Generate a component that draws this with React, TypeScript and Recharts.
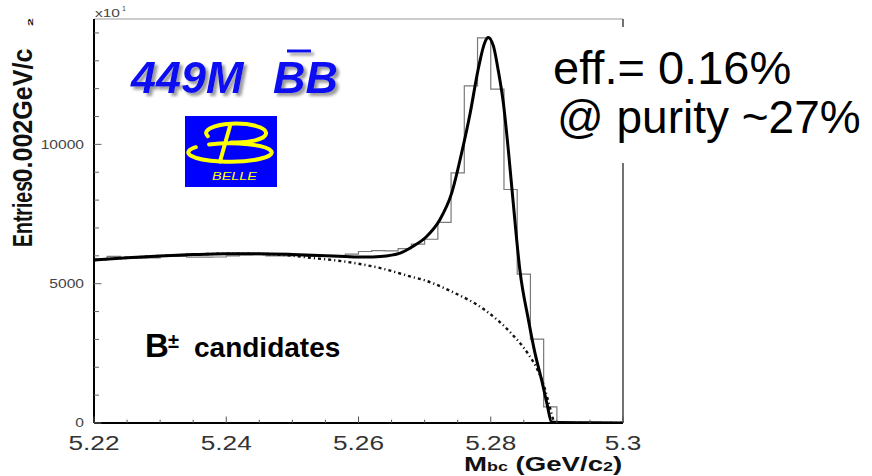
import React from 'react';
import { LineChart, Line, XAxis, YAxis, ReferenceLine } from 'recharts';

const FONT = '"Liberation Sans", Arial, Helvetica, sans-serif';

// Mbc histogram: lower bin edges (GeV/c^2), last entry closes the final bin
const binEdges = [
  5.220, 5.222, 5.224, 5.226, 5.228, 5.230, 5.232, 5.234, 5.236, 5.238,
  5.240, 5.242, 5.244, 5.246, 5.248, 5.250, 5.252, 5.254, 5.256, 5.258,
  5.260, 5.262, 5.264, 5.266, 5.268, 5.270, 5.272, 5.274, 5.276, 5.278,
  5.280, 5.282, 5.284, 5.286, 5.288, 5.290, 5.292, 5.294, 5.296, 5.298,
  5.300,
];
// entries per 0.002 GeV/c^2 bin (x10^1)
const binCounts = [
  5880, 5980, 5920, 5915, 5925, 5975, 5980, 5955, 5950, 5958,
  6000, 6035, 6040, 6000, 5998, 6005, 5975, 5980, 5970, 6060,
  6155, 6190, 6180, 6255, 6420, 6595, 7200, 8980, 12100, 13820,
  11980, 8380, 5340, 3010, 580, 0, 0, 0, 0, 0,
  0,
];

// total fit (signal + background)
const fitMass = [
  5.220, 5.225, 5.230, 5.235, 5.240, 5.245, 5.250, 5.255, 5.258, 5.261,
  5.2633, 5.2663, 5.2682, 5.2703, 5.2723, 5.2741, 5.2756, 5.2769, 5.2781, 5.2791,
  5.2796, 5.2804, 5.2811, 5.2819, 5.2827, 5.2834, 5.2844, 5.2857, 5.2867, 5.2877,
  5.2885, 5.2892, 5.2900, 5.2950, 5.3000,
];
const fitValue = [
  5850, 5930, 5995, 6045, 6075, 6075, 6050, 6005, 5975, 5955,
  5976, 6098, 6336, 6696, 7297, 8258, 9698, 11138, 12697, 13658,
  13840, 13536, 12697, 11498, 9698, 7898, 5497, 3697, 2498, 1537,
  698, 36, 20, 10, 0,
];

// ARGUS-like continuum background component
const bkgMass = [
  5.220, 5.230, 5.240, 5.245, 5.2481, 5.2532, 5.2582, 5.2633, 5.2683, 5.2698,
  5.2741, 5.2791, 5.2831, 5.2856, 5.2871, 5.2881, 5.2889, 5.2895, 5.2898, 5.3000,
];
const bkgValue = [
  5850, 5995, 6075, 6070, 6040, 5920, 5785, 5560, 5230, 5137,
  4716, 4057, 3218, 2498, 1897, 1296, 600, 100, 0, 0,
];

const xTicks = [
  5.22, 5.225, 5.23, 5.235, 5.24, 5.245, 5.25, 5.255, 5.26,
  5.265, 5.27, 5.275, 5.28, 5.285, 5.29, 5.295, 5.3,
];
const xLabelValues = [5.22, 5.24, 5.26, 5.28, 5.3];
const xLabels = ['5.22', '5.24', '5.26', '5.28', '5.3'];

const yTicks = [
  0, 1000, 2000, 3000, 4000, 5000, 6000, 7000, 8000, 9000,
  10000, 11000, 12000, 13000, 14000,
];
const yLabelValues = [0, 5000, 10000];
const yLabels = ['0', '5000', '10000'];

const histData = binEdges.map((m, i) => ({ m, v: binCounts[i] }));
const fitData = fitMass.map((m, i) => ({ m, v: fitValue[i] }));
const bkgData = bkgMass.map((m, i) => ({ m, v: bkgValue[i] }));

const findIndex = (list: number[], value: number) =>
  list.findIndex((v) => Math.abs(v - value) < 1e-9);

const XTick = (props: any) => {
  const { x, y, payload } = props;
  const idx = findIndex(xLabelValues, payload.value);
  const major = idx >= 0;
  return (
    <g>
      <line x1={x} x2={x} y1={y} y2={y - (major ? 6.5 : 3.3)} stroke="#555" strokeWidth={1} />
      {major && (
        <g transform={`translate(${x},${y + 26.6}) scale(1.31,1)`}>
          <text x={0} y={0} textAnchor="middle" fontSize={20} fill="#333" fontFamily={FONT}>
            {xLabels[idx]}
          </text>
        </g>
      )}
    </g>
  );
};

const YTick = (props: any) => {
  const { x, y, payload } = props;
  const idx = findIndex(yLabelValues, payload.value);
  const major = idx >= 0;
  return (
    <g>
      <line x1={x} x2={x + (major ? 7.5 : 5)} y1={y} y2={y} stroke="#666" strokeWidth={1} />
      {major && (
        <g transform={`translate(${x - 10},${y + 4.3}) scale(1.3,1)`}>
          <text x={0} y={0} textAnchor="end" fontSize={12} fill="#444" fontFamily={FONT}>
            {yLabels[idx]}
          </text>
        </g>
      )}
    </g>
  );
};

const BelleLogo = () => (
  <g>
    <rect x={185} y={116} width={92} height={71} fill="#0000ff" />
    <g fill="none" stroke="#ffff00" strokeWidth={4} strokeLinecap="round">
      <path d="M 207.8 136.2 A 30 9.5 0 1 1 230.8 142.4" />
      <path d="M 230 126 L 220 161.5" />
      <path d="M 195.8 147.2 A 41.7 9.2 0 1 0 209.1 144.5" />
    </g>
    <text
      x={212}
      y={180}
      fontSize={11}
      fontStyle="italic"
      fill="#ffff00"
      fontFamily={FONT}
      textLength={45}
      lengthAdjust="spacingAndGlyphs"
    >
      BELLE
    </text>
  </g>
);

const Annotations = () => (
  <svg
    width={872}
    height={476}
    style={{ position: 'absolute', left: 0, top: 0, pointerEvents: 'none' }}
  >
    <defs>
      <filter id="softShadow" x="-10%" y="-20%" width="130%" height="160%">
        <feDropShadow dx="3" dy="3" stdDeviation="1.8" floodColor="#777" floodOpacity="0.75" />
      </filter>
    </defs>

    {/* axis multiplier */}
    <text x={95} y={17.3} fontSize={10} fill="#444" fontFamily={FONT} textLength={25} lengthAdjust="spacingAndGlyphs">
      x10
    </text>
    <text x={122} y={10.5} fontSize={7} fill="#444" fontFamily={FONT}>
      1
    </text>

    {/* y axis title */}
    <g transform="translate(32.3,247) rotate(-90) scale(1,1.16)">
      <text x={0} y={0} fontSize={24} fontWeight="bold" fill="#111" fontFamily={FONT} textLength={66} lengthAdjust="spacingAndGlyphs">
        Entries
      </text>
    </g>
    <g transform="translate(32.3,182.5) rotate(-90) scale(1,1.16)">
      <text x={0} y={0} fontSize={24} fontWeight="bold" fill="#111" fontFamily={FONT} textLength={134} lengthAdjust="spacingAndGlyphs">
        0.002GeV/c
      </text>
    </g>
    <g transform="translate(33.3,26) rotate(-90)">
      <text x={0} y={0} fontSize={8} fontWeight="bold" fill="#111" fontFamily={FONT} textLength={7.7} lengthAdjust="spacingAndGlyphs">
        2
      </text>
    </g>

    {/* x axis title */}
    <g transform="translate(464,471) scale(1.38,1)">
      <text x={0} y={0} fontSize={20} fontWeight="bold" fill="#111" fontFamily={FONT}>
        <tspan>M</tspan>
        <tspan fontSize={13}>bc</tspan>
        <tspan> (GeV/c</tspan>
        <tspan fontSize={13}>2</tspan>
        <tspan>)</tspan>
      </text>
    </g>

    {/* sample size */}
    <g filter="url(#softShadow)" fill="#0a0af2" fontFamily={FONT} fontWeight="bold" fontStyle="italic">
      <text x={131} y={93} fontSize={45}>
        449M
      </text>
      <text x={273} y={93} fontSize={45}>
        BB
      </text>
      <line x1={287} x2={311} y1={51} y2={51} stroke="#0a0af2" strokeWidth={3} />
    </g>

    <BelleLogo />

    {/* efficiency box */}
    <rect x={548} y={27} width={324} height={136} fill="#ffffff" />
    <text x={553} y={84} fontSize={47} fill="#000" fontFamily={FONT}>
      eff.= 0.16%
    </text>
    <text x={557} y={133} fontSize={46} fill="#000" fontFamily={FONT}>
      @ purity ~27%
    </text>

    {/* sample label */}
    <text x={145} y={357} fontSize={33} fontWeight="bold" fill="#000" fontFamily={FONT}>
      B
    </text>
    <text x={168} y={348} fontSize={20} fontWeight="bold" fill="#000" fontFamily={FONT}>
      ±
    </text>
    <text x={194} y={357} fontSize={28} fontWeight="bold" fill="#000" fontFamily={FONT}>
      candidates
    </text>
  </svg>
);

export default function App() {
  return (
    <div style={{ position: 'absolute', left: 0, top: 0, width: 872, height: 476, background: '#fff' }}>
      <LineChart width={872} height={476} margin={{ top: 19, right: 249, bottom: 0, left: 0 }}>
        <XAxis
          dataKey="m"
          type="number"
          domain={[5.22, 5.3]}
          ticks={xTicks}
          interval={0}
          allowDataOverflow
          height={53}
          tickLine={false}
          tickSize={0}
          tickMargin={0}
          axisLine={{ stroke: '#000', strokeWidth: 2 }}
          tick={(p: any) => <XTick {...p} />}
        />
        <YAxis
          type="number"
          domain={[0, 14500]}
          ticks={yTicks}
          interval={0}
          allowDataOverflow
          width={94}
          tickLine={false}
          tickSize={0}
          tickMargin={0}
          axisLine={{ stroke: '#000', strokeWidth: 2 }}
          tick={(p: any) => <YTick {...p} />}
        />
        <ReferenceLine y={14500} stroke="#9a9a9a" strokeWidth={1.2} />
        <ReferenceLine x={5.3} stroke="#444" strokeWidth={1.5} />
        <Line
          data={histData}
          dataKey="v"
          type="stepAfter"
          stroke="#7a7a7a"
          strokeWidth={1.2}
          dot={false}
          activeDot={false}
          isAnimationActive={false}
        />
        <Line
          data={bkgData}
          dataKey="v"
          type="monotone"
          stroke="#111"
          strokeWidth={2.4}
          strokeDasharray="3 3 1.2 3"
          dot={false}
          activeDot={false}
          isAnimationActive={false}
        />
        <Line
          data={fitData}
          dataKey="v"
          type="monotone"
          stroke="#000"
          strokeWidth={3}
          dot={false}
          activeDot={false}
          isAnimationActive={false}
        />
      </LineChart>
      <Annotations />
    </div>
  );
}
